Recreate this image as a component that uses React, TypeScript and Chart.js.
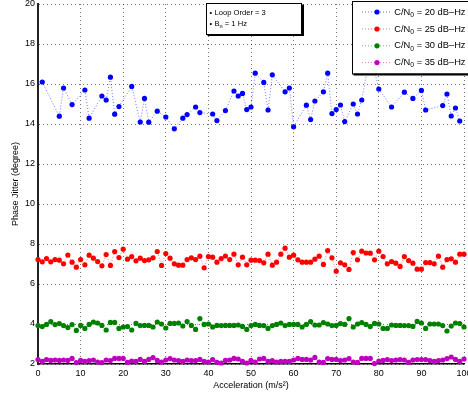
import { useEffect, useRef } from "react";
import { Chart, registerables } from "chart.js";

Chart.register(...registerables);

// Acceleration steps (m/s^2) for the dense runs
const accel = Array.from({ length: 101 }, (_, i) => i);

// C/N0 = 20 dB-Hz run (sampled accelerations only)
const blueX = [1, 5, 6, 8, 11, 12, 15, 16, 17, 18, 19, 22, 24, 25, 26, 28, 30, 32, 34, 35, 37, 38, 41, 42, 44, 46, 47, 48, 49, 50, 51, 53, 54, 55, 58, 59, 60, 63, 64, 65, 67, 68, 69, 70, 71, 72, 74, 75, 76, 78, 80, 83, 86, 88, 90, 91, 95, 96, 97, 98, 99];
const blueY = [16.1, 14.39, 15.8, 14.97, 15.7, 14.29, 15.4, 15.2, 16.34, 14.49, 14.87, 15.88, 14.1, 15.28, 14.09, 14.64, 14.35, 13.76, 14.29, 14.47, 14.85, 14.57, 14.5, 14.17, 14.67, 15.65, 15.4, 15.53, 14.72, 14.85, 16.54, 16.08, 14.7, 16.46, 15.61, 15.8, 13.86, 14.94, 14.22, 15.15, 15.61, 16.54, 14.52, 14.72, 14.95, 14.12, 15.0, 14.5, 15.2, 17.5, 15.75, 14.85, 15.59, 15.28, 15.68, 14.7, 14.92, 15.5, 14.4, 14.8, 14.15];

// C/N0 = 25 dB-Hz
const redY = [7.22, 7.11, 7.27, 7.11, 7.22, 7.19, 7.01, 7.45, 7.09, 6.84, 7.22, 6.96, 7.44, 7.29, 7.12, 6.91, 7.47, 6.93, 7.62, 7.32, 7.74, 7.24, 7.37, 7.16, 7.29, 7.17, 7.21, 7.31, 7.62, 6.93, 7.52, 7.29, 7.01, 6.94, 6.94, 7.22, 7.31, 7.22, 7.39, 6.81, 7.37, 7.34, 7.09, 7.27, 7.4, 7.22, 7.49, 6.96,
  7.34, 6.96, 7.19, 7.19, 7.17, 7.06, 7.49, 6.94, 7.09, 7.49, 7.79, 7.34, 7.44, 7.21, 7.09, 7.09, 7.09, 7.24, 7.39, 6.98, 7.67, 7.31, 6.64, 7.06, 6.96, 6.73, 7.57, 7.21, 7.64, 7.55, 7.54, 7.21, 7.64, 7.37, 7.01, 7.12, 7.04, 6.88, 7.37, 7.17, 7.04, 6.74, 6.74, 7.07, 7.07, 7.01, 7.39, 6.84, 7.22, 7.26, 7.09, 7.49, 7.49];

// C/N0 = 30 dB-Hz
const greenY = [3.92, 3.87, 3.98, 4.12, 3.97, 4.02, 3.92, 3.82, 3.97, 3.68, 3.93, 3.78, 3.98, 4.1, 4.05, 3.93, 3.7, 4.08, 4.08, 3.78, 3.85, 3.87, 3.7, 4.03, 3.92, 3.93, 3.93, 3.85, 4.1, 4.0, 3.8, 4.03, 4.03, 4.05, 3.9, 4.12, 3.93, 3.73, 4.27, 3.98, 4.0, 3.85, 3.93, 3.92, 3.93, 3.93, 3.93, 3.95,
  3.88, 3.73, 3.92, 3.98, 3.93, 3.92, 3.78, 3.92, 3.98, 4.05, 3.92, 3.98, 3.98, 3.98, 3.85, 3.98, 4.12, 3.95, 3.95, 4.07, 4.0, 3.92, 3.93, 4.02, 3.98, 4.27, 3.85, 4.0, 4.07, 3.98, 3.87, 4.03, 4.0, 3.78, 3.78, 3.95, 3.93, 3.93, 3.92, 3.92, 3.88, 4.13, 4.05, 3.78, 4.0, 4.0, 4.0, 3.92, 3.65, 3.9, 4.05, 4.02, 3.85];

// C/N0 = 35 dB-Hz
const magentaY = [2.22, 2.13, 2.22, 2.18, 2.2, 2.18, 2.2, 2.18, 2.28, 2.07, 2.18, 2.13, 2.17, 2.2, 2.1, 2.07, 2.2, 2.17, 2.28, 2.28, 2.28, 2.08, 2.15, 2.13, 2.23, 2.13, 2.23, 2.32, 2.18, 2.1, 2.2, 2.27, 2.2, 2.17, 2.13, 2.2, 2.17, 2.17, 2.23, 2.13, 2.1, 2.22, 2.08, 2.05, 2.18, 2.2, 2.28, 2.25,
  2.13, 2.05, 2.18, 2.1, 2.25, 2.28, 2.13, 2.17, 2.1, 2.13, 2.13, 2.13, 2.2, 2.28, 2.23, 2.23, 2.2, 2.33, 2.1, 2.08, 2.27, 2.23, 2.23, 2.17, 2.2, 2.27, 2.1, 2.08, 2.28, 2.28, 2.28, 2.02, 2.15, 2.18, 2.22, 2.17, 2.2, 2.22, 2.2, 2.08, 2.2, 2.22, 2.22, 2.22, 2.17, 2.13, 2.17, 2.2, 2.27, 2.35, 2.23, 2.13, 2.25];

const cnLevels = ["20", "25", "30", "35"];
const seriesColors = ["#0000ff", "#ff0000", "#008000", "#c000c0"];
const lineColors = ["rgba(0,0,255,0.55)", "rgba(255,0,0,0.55)", "rgba(0,128,0,0.55)", "rgba(192,0,192,0.55)"];

const FONT = "'Liberation Sans', Arial, Helvetica, sans-serif";
const MARKER_R = 2.6;

function boxFrame(ctx: CanvasRenderingContext2D, x: number, y: number, w: number, h: number) {
  ctx.fillStyle = "#fff";
  ctx.fillRect(x, y, w, h);
  ctx.strokeStyle = "#000";
  ctx.lineWidth = 1;
  ctx.setLineDash([]);
  ctx.strokeRect(x, y, w, h);
  // drop shadow on right and bottom edges
  ctx.lineWidth = 2;
  ctx.beginPath();
  ctx.moveTo(x + 1, y + h + 0.5);
  ctx.lineTo(x + w + 1.5, y + h + 0.5);
  ctx.lineTo(x + w + 1.5, y + 1);
  ctx.stroke();
}

const annotationsPlugin = {
  id: "annotations",
  afterDraw(chart: any) {
    const ctx: CanvasRenderingContext2D = chart.ctx;
    ctx.save();

    // parameter box
    boxFrame(ctx, 206.5, 3.5, 95, 31);
    ctx.fillStyle = "#000";
    ctx.textBaseline = "middle";
    ctx.textAlign = "left";
    ctx.font = `7.6px ${FONT}`;
    ctx.fillText("\u2022", 209.5, 13.3);
    ctx.fillText("Loop Order = 3", 214.5, 13.3);
    ctx.fillText("\u2022", 209.5, 23.5);
    ctx.fillText("B", 214.5, 23.5);
    let bx = 214.5 + ctx.measureText("B").width;
    ctx.font = `5.6px ${FONT}`;
    ctx.fillText("n", bx, 26);
    bx += ctx.measureText("n").width;
    ctx.font = `7.6px ${FONT}`;
    ctx.fillText(" = 1 Hz", bx, 23.5);

    // series legend
    boxFrame(ctx, 352.5, 1.5, 120, 72.5);
    const rowY = [12, 29, 45.8, 62.6];
    cnLevels.forEach((lvl, i) => {
      const y = rowY[i];
      ctx.strokeStyle = lineColors[i];
      ctx.lineWidth = 1;
      ctx.setLineDash([1, 2]);
      ctx.beginPath();
      ctx.moveTo(362, y);
      ctx.lineTo(390, y);
      ctx.stroke();
      ctx.setLineDash([]);
      ctx.fillStyle = seriesColors[i];
      ctx.beginPath();
      ctx.arc(377, y, MARKER_R, 0, Math.PI * 2);
      ctx.fill();

      ctx.fillStyle = "#000";
      ctx.font = `9.3px ${FONT}`;
      let tx = 394.3;
      ctx.fillText("C/N", tx, y);
      tx += ctx.measureText("C/N").width;
      ctx.font = `6.8px ${FONT}`;
      ctx.fillText("0", tx, y + 3);
      tx += ctx.measureText("0").width;
      ctx.font = `9.3px ${FONT}`;
      ctx.fillText(` = ${lvl} dB\u2013Hz`, tx, y);
    });

    ctx.restore();
  },
};

function makeSet(label: string, xs: number[], ys: number[], i: number) {
  return {
    label,
    data: ys.map((y, k) => ({ x: xs[k], y })),
    borderColor: lineColors[i],
    backgroundColor: seriesColors[i],
    pointBackgroundColor: seriesColors[i],
    pointBorderColor: seriesColors[i],
    pointBorderWidth: 0,
    pointRadius: MARKER_R,
    borderWidth: 1,
    borderDash: [1, 2],
    tension: 0,
    fill: false,
    clip: false as const,
  };
}

export default function App() {
  const ref = useRef<HTMLCanvasElement | null>(null);

  useEffect(() => {
    if (!ref.current) return;
    const tickFont = { family: FONT, size: 9 };
    const chart = new Chart(ref.current, {
      type: "line",
      data: {
        datasets: [
          makeSet("C/N0 = 20 dB-Hz", blueX, blueY, 0),
          makeSet("C/N0 = 25 dB-Hz", accel, redY, 1),
          makeSet("C/N0 = 30 dB-Hz", accel, greenY, 2),
          makeSet("C/N0 = 35 dB-Hz", accel, magentaY, 3),
        ],
      },
      options: {
        responsive: false,
        animation: false,
        devicePixelRatio: 1,
        layout: { padding: { top: 2.5, right: 1, bottom: 0, left: 0 } },
        plugins: { legend: { display: false }, tooltip: { enabled: false } },
        scales: {
          x: {
            type: "linear",
            min: 0,
            max: 100,
            ticks: { stepSize: 10, padding: 4, color: "#000", font: tickFont, maxRotation: 0, autoSkip: false },
            grid: { color: "rgba(0,0,0,0.55)", lineWidth: 1, drawTicks: false },
            border: { display: true, color: "#000", width: 1.5, dash: [1, 3] },
            title: {
              display: true,
              text: "Acceleration (m/s\u00b2)",
              color: "#000",
              font: { family: FONT, size: 9 },
              padding: { top: 0, bottom: 4.6 },
            },
            afterFit: (s: any) => {
              s.height = 32;
              s.paddingLeft = 0;
              s.paddingRight = 0;
            },
          },
          y: {
            type: "linear",
            min: 2,
            max: 20,
            ticks: { stepSize: 2, padding: 3, color: "#000", font: tickFont },
            grid: { color: "rgba(0,0,0,0.55)", lineWidth: 1, drawTicks: false },
            border: { display: true, color: "#222", width: 2, dash: [1, 3] },
            title: {
              display: true,
              text: "Phase Jitter (degree)",
              color: "#000",
              font: { family: FONT, size: 9 },
              padding: { top: 10.6, bottom: 0 },
            },
            afterFit: (s: any) => {
              s.width = 38;
              s.paddingTop = 0;
              s.paddingBottom = 0;
            },
          },
        },
      },
      plugins: [annotationsPlugin],
    } as any);
    return () => chart.destroy();
  }, []);

  return (
    <div style={{ position: "fixed", left: 0, top: 0, width: 468, height: 396, background: "#fff", overflow: "hidden" }}>
      <canvas ref={ref} width={468} height={396} style={{ display: "block" }} />
    </div>
  );
}
